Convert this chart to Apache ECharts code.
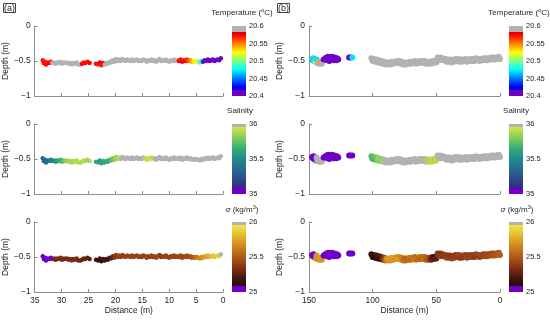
<!DOCTYPE html>
<html><head><meta charset="utf-8">
<script src="https://cdn.jsdelivr.net/npm/echarts@6/dist/echarts.min.js"></script>
<style>html,body{margin:0;padding:0;background:#fff}#c{width:550px;height:320px}</style>
</head><body><div id="c"></div><script>
// ---------------- DATA ----------------
// Panel (a): distance (m), depth (m), temperature (degC), salinity, sigma (kg/m3)
const aDist = [
 33.5,33.3,33.1,32.9,32.6,32.3,32.0,31.7,
 31.4,31.1,30.8,30.5,30.2,29.9,29.6,29.3,29.0,28.7,28.4,28.1,27.8,27.5,27.2,26.9,
 26.5,26.2,25.9,25.6,25.2,24.8,
 23.6,23.2,22.9,22.6,22.3,
 22.0,21.7,21.4,21.1,20.8,20.5,20.2,19.9,19.6,19.3,
 19.0,18.7,18.4,18.1,17.8,17.5,17.2,16.9,16.6,16.3,
 16.0,15.7,15.4,15.1,14.8,14.5,14.2,13.9,13.6,13.3,
 13.0,12.7,12.4,12.1,11.8,11.5,11.2,10.9,10.6,10.3,
 10.0,9.7,9.4,9.1,8.8,8.5,
 8.2,7.9,7.6,7.3,7.0,6.7,6.4,6.1,5.8,5.5,
 5.2,4.9,4.6,4.3,4.0,3.7,3.4,3.1,2.8,2.5,
 2.2,1.9,1.6,1.3,1.0,0.7,0.4];
const aDepth = [
 -0.49,-0.53,-0.51,-0.55,-0.52,-0.53,-0.51,-0.53,
 -0.52,-0.54,-0.52,-0.53,-0.51,-0.54,-0.52,-0.53,-0.52,-0.54,-0.53,-0.55,-0.53,-0.54,-0.52,-0.55,
 -0.55,-0.54,-0.52,-0.53,-0.51,-0.53,
 -0.54,-0.55,-0.52,-0.56,-0.53,
 -0.55,-0.53,-0.54,-0.51,-0.52,-0.49,-0.51,-0.47,-0.50,-0.48,
 -0.50,-0.47,-0.49,-0.50,-0.48,-0.49,-0.50,-0.48,-0.50,-0.49,
 -0.48,-0.50,-0.49,-0.50,-0.48,-0.49,-0.51,-0.49,-0.50,-0.48,
 -0.50,-0.49,-0.51,-0.49,-0.47,-0.50,-0.49,-0.50,-0.48,-0.50,
 -0.51,-0.49,-0.50,-0.48,-0.50,-0.49,
 -0.50,-0.48,-0.51,-0.49,-0.50,-0.48,-0.50,-0.49,-0.51,-0.50,
 -0.51,-0.50,-0.51,-0.52,-0.50,-0.51,-0.49,-0.50,-0.48,-0.50,
 -0.49,-0.48,-0.50,-0.49,-0.48,-0.49,-0.46];
const aTemp = [
 20.57,20.575,20.57,20.575,20.57,20.575,20.57,20.62,
 20.62,20.62,20.62,20.62,20.62,20.62,20.62,20.62,20.62,20.62,20.62,20.62,20.62,20.62,20.62,20.62,
 20.62,20.575,20.57,20.575,20.57,20.575,
 20.575,20.57,20.575,20.57,20.575,
 20.62,20.62,20.62,20.62,20.62,20.62,20.62,20.62,20.62,20.62,
 20.62,20.62,20.62,20.62,20.62,20.62,20.62,20.62,20.62,20.62,
 20.62,20.62,20.62,20.62,20.62,20.62,20.62,20.62,20.62,20.62,
 20.62,20.62,20.62,20.62,20.62,20.62,20.62,20.62,20.62,20.62,
 20.62,20.62,20.62,20.62,20.62,20.62,
 20.575,20.57,20.575,20.57,20.575,20.565,20.56,20.55,20.54,20.53,
 20.525,20.52,20.51,20.49,20.475,20.405,20.405,20.405,20.405,20.405,
 20.405,20.405,20.405,20.405,20.405,20.405,20.405];
const aSal = [
 35.35,35.33,35.36,35.34,35.37,35.38,35.40,35.45,
 35.50,35.55,35.58,35.62,35.66,35.70,35.76,35.80,35.84,35.86,35.88,35.86,35.88,35.90,35.88,35.90,
 35.90,35.88,35.90,35.88,35.86,35.88,
 35.60,35.62,35.58,35.62,35.65,
 35.62,35.65,35.62,35.68,35.72,35.76,35.82,35.86,35.88,35.90,
 36.02,36.02,36.02,36.02,36.02,36.02,36.02,36.02,36.02,36.02,
 36.02,36.02,36.02,36.02,36.02,35.90,35.90,35.92,35.92,35.90,
 35.94,36.02,36.02,36.02,36.02,36.02,36.02,36.02,36.02,36.02,
 36.02,36.02,36.02,36.02,36.02,36.02,
 36.02,36.02,36.02,36.02,36.02,36.02,36.02,36.02,36.02,36.02,
 36.02,36.02,36.02,36.02,36.02,36.02,36.02,36.02,36.02,36.02,
 36.02,36.02,36.02,36.02,36.02,36.02,36.02];
const aSig = [
 25.02,25.03,25.02,25.04,25.03,25.02,25.04,25.05,
 25.32,25.30,25.34,25.31,25.33,25.30,25.34,25.32,25.30,25.33,25.31,25.34,25.30,25.32,25.33,25.30,
 25.30,25.28,25.32,25.26,25.28,25.25,
 25.18,25.15,25.20,25.16,25.18,
 25.18,25.20,25.17,25.22,25.25,25.30,25.35,25.38,25.40,25.42,
 25.40,25.42,25.38,25.41,25.43,25.40,25.42,25.39,25.41,25.43,
 25.40,25.42,25.41,25.39,25.42,25.40,25.43,25.41,25.39,25.42,
 25.40,25.43,25.41,25.42,25.40,25.38,25.41,25.43,25.40,25.42,
 25.41,25.40,25.42,25.43,25.41,25.42,
 25.42,25.43,25.41,25.44,25.42,25.45,25.43,25.46,25.48,25.50,
 25.55,25.58,25.62,25.65,25.68,25.70,25.72,25.75,25.78,25.80,
 25.82,25.84,25.85,25.86,25.88,25.88,26.10];

// Panel (b), near-shore cluster (far end of transect)
const bClusterDist = [
 147.5,147.0,146.5,146.0,145.5,145.0,144.5,144.0,143.5,143.0,
 142.0,141.0,140.0,139.0,138.5,137.0,136.5,136.0,135.5,135.0,
 134.5,134.0,133.0,132.5,132.0,131.0,130.5,130.0,129.0,128.5,
 128.0,127.0,118.5,117.5,116.0];
const bClusterDepth = [
 -0.47,-0.49,-0.46,-0.50,-0.48,-0.50,-0.52,-0.48,-0.53,-0.51,
 -0.54,-0.52,-0.54,-0.50,-0.48,-0.46,-0.48,-0.45,-0.49,-0.44,
 -0.47,-0.50,-0.45,-0.48,-0.44,-0.47,-0.49,-0.45,-0.47,-0.49,
 -0.46,-0.48,-0.45,-0.45,-0.45];
const bClusterTemp = [
 20.47,20.465,20.47,20.47,20.47,20.62,20.525,20.47,20.62,20.62,
 20.62,20.545,20.62,20.62,20.405,20.405,20.405,20.405,20.405,20.405,
 20.405,20.405,20.405,20.405,20.405,20.405,20.405,20.405,20.405,20.405,
 20.405,20.405,20.405,20.405,20.47];
const bClusterSal = [
 35.02,35.02,35.03,35.02,35.02,35.03,35.02,36.02,36.02,36.02,
 36.02,36.02,36.02,36.02,35.02,35.02,35.02,35.02,35.02,35.02,
 35.02,35.02,35.02,35.02,35.02,35.02,35.02,35.02,35.02,35.02,
 35.02,35.02,35.02,35.02,35.02];
const bClusterSig = [
 25.00,25.00,25.00,25.00,25.00,25.00,25.68,25.70,25.72,25.70,
 25.68,25.72,25.70,25.68,25.00,25.00,25.00,25.00,25.00,25.00,
 25.00,25.00,25.00,25.00,25.00,25.00,25.00,25.00,25.00,25.00,
 25.00,25.00,25.00,25.00,25.00];

// Panel (b), main band (101 m to 0 m)
const bBandDist = [
 101,100,99,98,97,96,95,94,93,92,
 91,90,89,88,87,86,85,84,83,82,
 81,80,79,78,77,76,75,74,73,72,
 71,70,69,68,67,66,65,64,63,62,
 61,60,59,58,57,56,55,54,53,52,
 51,50,49,48,47,46,45,44,43,42,
 41,40,39,38,37,36,35,34,33,32,
 31,30,29,28,27,26,25,24,23,22,
 21,20,19,18,17,16,15,14,13,12,
 11,10,9,8,7,6,5,4,3,2,
 1,0];
const bBandDepth = [
 -0.46,-0.50,-0.47,-0.51,-0.48,-0.52,-0.49,-0.53,-0.50,-0.54,
 -0.51,-0.55,-0.52,-0.55,-0.52,-0.55,-0.51,-0.54,-0.51,-0.53,
 -0.50,-0.53,-0.50,-0.54,-0.51,-0.55,-0.52,-0.55,-0.52,-0.54,
 -0.51,-0.54,-0.51,-0.53,-0.50,-0.54,-0.51,-0.53,-0.50,-0.53,
 -0.50,-0.53,-0.50,-0.54,-0.51,-0.54,-0.51,-0.54,-0.50,-0.53,
 -0.50,-0.52,-0.45,-0.48,-0.45,-0.49,-0.46,-0.49,-0.47,-0.51,
 -0.48,-0.51,-0.48,-0.52,-0.49,-0.51,-0.47,-0.50,-0.47,-0.51,
 -0.48,-0.51,-0.48,-0.50,-0.47,-0.51,-0.48,-0.50,-0.47,-0.50,
 -0.47,-0.50,-0.46,-0.49,-0.47,-0.50,-0.47,-0.49,-0.46,-0.49,
 -0.46,-0.49,-0.46,-0.48,-0.45,-0.48,-0.45,-0.48,-0.45,-0.47,
 -0.44,-0.47];
const bBandTemp = [
 20.62,20.62,20.62,20.62,20.62,20.62,20.62,20.62,20.62,20.62,
 20.62,20.62,20.62,20.62,20.62,20.62,20.62,20.62,20.62,20.62,
 20.62,20.62,20.62,20.62,20.62,20.62,20.62,20.62,20.62,20.62,
 20.62,20.62,20.62,20.62,20.62,20.62,20.62,20.62,20.62,20.62,
 20.62,20.62,20.62,20.62,20.62,20.62,20.62,20.62,20.62,20.62,
 20.62,20.62,20.62,20.62,20.62,20.62,20.62,20.62,20.62,20.62,
 20.62,20.62,20.62,20.62,20.62,20.62,20.62,20.62,20.62,20.62,
 20.62,20.62,20.62,20.62,20.62,20.62,20.62,20.62,20.62,20.62,
 20.62,20.62,20.62,20.62,20.62,20.62,20.62,20.62,20.62,20.62,
 20.62,20.62,20.62,20.62,20.62,20.62,20.62,20.62,20.62,20.62,
 20.62,20.62];
const bBandSal = [
 35.72,35.68,35.75,35.70,35.78,35.82,35.85,35.80,35.84,35.86,
 36.02,36.02,36.02,36.02,36.02,36.02,36.02,36.02,36.02,36.02,
 36.02,36.02,36.02,36.02,36.02,36.02,36.02,36.02,36.02,36.02,
 36.02,36.02,36.02,36.02,36.02,36.02,36.02,36.02,36.02,36.02,
 36.02,36.02,36.02,36.02,35.88,35.90,35.86,35.90,35.92,35.88,
 35.86,35.90,36.02,36.02,36.02,36.02,36.02,36.02,36.02,36.02,
 36.02,36.02,36.02,36.02,36.02,36.02,36.02,36.02,36.02,36.02,
 36.02,36.02,36.02,36.02,36.02,36.02,36.02,36.02,36.02,36.02,
 36.02,36.02,36.02,36.02,36.02,36.02,36.02,36.02,36.02,36.02,
 36.02,36.02,36.02,36.02,36.02,36.02,36.02,36.02,36.02,36.02,
 36.02,36.02];
const bBandSig = [
 25.15,25.12,25.18,25.10,25.20,25.15,25.22,25.18,25.25,25.30,
 25.40,25.55,25.68,25.70,25.72,25.68,25.75,25.70,25.72,25.68,
 25.70,25.74,25.66,25.70,25.65,25.60,25.55,25.58,25.52,25.56,
 25.60,25.55,25.58,25.62,25.55,25.57,25.60,25.55,25.58,25.52,
 25.56,25.60,25.55,25.50,25.52,25.45,25.40,25.28,25.22,25.25,
 25.20,25.25,25.36,25.38,25.35,25.40,25.37,25.36,25.39,25.42,
 25.38,25.40,25.36,25.42,25.38,25.40,25.37,25.39,25.42,25.38,
 25.40,25.37,25.41,25.38,25.40,25.43,25.38,25.41,25.39,25.42,
 25.40,25.38,25.42,25.40,25.43,25.41,25.44,25.42,25.40,25.44,
 25.43,25.45,25.42,25.46,25.44,25.47,25.45,25.48,25.46,25.50,
 25.48,25.52];

// Colorbar ranges and tick steps
const tempRange = [20.4, 20.6], tempStep = 0.05;
const salRange = [35, 36], salStep = 0.5;
const sigRange = [25, 26], sigStep = 0.5;
const aDistRange = [0, 35], aDistStep = 5;
const bDistRange = [0, 150], bDistStep = 50;

// ---------------- COLORMAPS ----------------
const PURPLE = '#7000c8', GRAY = '#b2b2b2';
function hex(c){return [parseInt(c.slice(1,3),16),parseInt(c.slice(3,5),16),parseInt(c.slice(5,7),16)];}
function stopsFn(stops){
  const s = stops.map(([t,c])=>[t,hex(c)]);
  return t=>{ t=Math.max(0,Math.min(1,t));
    for(let i=1;i<s.length;i++){ if(t<=s[i][0]){const a=s[i-1],b=s[i],u=(t-a[0])/(b[0]-a[0]||1);
      return [0,1,2].map(k=>Math.round(a[1][k]+(b[1][k]-a[1][k])*u));}}
    return s[s.length-1][1]; };
}
function jet(t){ const tt=0.08+0.84*t; const cl=x=>Math.max(0,Math.min(1,x));
  return [cl(1.5-Math.abs(4*tt-3)),cl(1.5-Math.abs(4*tt-2)),cl(1.5-Math.abs(4*tt-1))].map(v=>Math.round(v*255)); }
const salInner = stopsFn([[0,'#2e2a7e'],[0.15,'#2c4a8c'],[0.35,'#24738e'],[0.5,'#1f8f8a'],[0.65,'#36ab78'],[0.8,'#78c95a'],[1,'#d6e64a']]);
const sigInner = stopsFn([[0,'#200808'],[0.15,'#4a1610'],[0.32,'#8a3418'],[0.48,'#b05a18'],[0.62,'#cc7e1c'],[0.78,'#e0aa26'],[1,'#f2ea4a']]);
function rgb(a){return 'rgb('+a[0]+','+a[1]+','+a[2]+')';}
function makeMap(range, lo, hi, inner){
  const fn = v=>{ const f=(v-range[0])/(range[1]-range[0]); if(f<lo) return PURPLE; if(f>hi) return GRAY; return rgb(inner((f-lo)/(hi-lo))); };
  const stops=[{offset:0,color:GRAY},{offset:1-hi,color:GRAY}];
  const N=60; for(let i=N;i>=0;i--){const t=i/N; const f=lo+(hi-lo)*t; stops.push({offset:1-f,color:rgb(inner(t))});}
  stops.push({offset:1-lo,color:PURPLE},{offset:1,color:PURPLE});
  return {fn, stops};
}
const tMap = makeMap(tempRange, 0.09, 0.915, jet);
const sMap = makeMap(salRange, 0.08, 0.96, salInner);
const gMap = makeMap(sigRange, 0.08, 0.96, sigInner);

// ---------------- LAYOUT ----------------
const FONT = '"Liberation Sans", Arial, Helvetica, sans-serif';
const TXT = '#262626', AX = '#8e8e8e';
const tops = [26, 124, 222], H = 70;
const grids = [], xAxes = [], yAxes = [], series = [];
const bDist = bClusterDist.concat(bBandDist), bDepth = bClusterDepth.concat(bBandDepth);
const bTemp = bClusterTemp.concat(bBandTemp), bSal = bClusterSal.concat(bBandSal), bSig = bClusterSig.concat(bBandSig);
const panels = [
  {left:32, dist:aDist, depth:aDepth, vals:[aTemp,aSal,aSig], range:aDistRange, step:aDistStep, size:4.5, cbLeft:232, nameGap:16},
  {left:309, dist:bDist, depth:bDepth, vals:[bTemp,bSal,bSig], range:bDistRange, step:bDistStep, size:6, cbLeft:509, nameGap:18}
];
const maps = [tMap, sMap, gMap];
const cbRanges = [tempRange, salRange, sigRange], cbSteps = [tempStep, salStep, sigStep];
const fmt = v => String(parseFloat(v.toFixed(2)));
panels.forEach((P, pi)=>{
  for(let r=0;r<3;r++){
    const gi = grids.length;
    grids.push({left:P.left, top:tops[r], width:191, height:H});
    const bottom = r===2;
    xAxes.push({type:'value', gridIndex:gi, min:P.range[0], max:P.range[1], interval:P.step, inverse:true,
      axisLine:{show:true, onZero:false, lineStyle:{color:AX, width:1}},
      axisTick:{show:true, inside:true, length:3, lineStyle:{color:AX}},
      axisLabel:{show:bottom, color:TXT, fontSize:8.5, fontFamily:FONT, margin:4},
      splitLine:{show:false},
      name: bottom?'Distance (m)':'', nameLocation:'middle', nameGap:14,
      nameTextStyle:{color:TXT, fontSize:8.5, fontFamily:FONT}});
    yAxes.push({type:'value', gridIndex:gi, min:-1, max:0, interval:0.5, position:'left',
      axisLine:{show:true, onZero:false, lineStyle:{color:AX, width:1}},
      axisTick:{show:true, inside:true, length:3, lineStyle:{color:AX}},
      axisLabel:{color:TXT, fontSize:8.5, fontFamily:FONT, margin:4, formatter:v=> v===0?'0':'\u2212'+Math.abs(v)},
      splitLine:{show:false},
      name:'Depth (m)', nameLocation:'middle', nameGap:P.nameGap,
      nameTextStyle:{color:TXT, fontSize:8.5, fontFamily:FONT}});
    const vals = P.vals[r], map = maps[r].fn;
    series.push({type:'scatter', xAxisIndex:gi, yAxisIndex:gi, symbolSize:P.size, silent:true,
      data:P.dist.map((d,i)=>[d, P.depth[i], vals[i]]),
      itemStyle:{opacity:1, color:p=>map(p.data[2])}});
  }
});
// colorbars
panels.forEach((P, pi)=>{
  for(let r=0;r<3;r++){
    const gi = grids.length;
    grids.push({left:P.cbLeft, top:tops[r], width:14, height:H});
    const rg = cbRanges[r];
    xAxes.push({type:'value', gridIndex:gi, min:0, max:1, show:false});
    yAxes.push({type:'value', gridIndex:gi, min:rg[0], max:rg[1], interval:cbSteps[r], position:'right',
      axisLine:{show:false}, axisTick:{show:false}, splitLine:{show:false},
      axisLabel:{color:TXT, fontSize:7.5, fontFamily:FONT, margin:3, formatter:fmt}});
    const stops = maps[r].stops;
    series.push({type:'custom', xAxisIndex:gi, yAxisIndex:gi, silent:true, data:[[0, rg[0], rg[1]]], encode:{x:0,y:1},
      renderItem:(params, api)=>{
        const p1 = api.coord([0, rg[1]]), p2 = api.coord([1, rg[0]]);
        return {type:'rect', shape:{x:p1[0], y:p1[1], width:p2[0]-p1[0], height:p2[1]-p1[1]},
          style:{fill:new echarts.graphic.LinearGradient(0,0,0,1,stops)}};
      }});
  }
});

const rich = {n:{fontSize:8, color:TXT, fontFamily:FONT, lineHeight:12},
              i:{fontSize:8, color:TXT, fontFamily:FONT, lineHeight:12, fontStyle:'italic'},
              s:{fontSize:5.5, color:TXT, fontFamily:FONT, lineHeight:6, verticalAlign:'top'}};
function cbTitle(text, x, y){ return {text, left:x, top:y, textAlign:'center', textVerticalAlign:'middle', padding:0,
  textStyle:{rich, fontSize:8, fontWeight:'normal'}}; }
const titles = [
  {text:'(a)', left:3, top:3, padding:[1,1,0,1], borderWidth:1, borderColor:'#444', textStyle:{fontSize:9, fontWeight:'normal', color:TXT, fontFamily:FONT}},
  {text:'(b)', left:277, top:3, padding:[1,1,0,1], borderWidth:1, borderColor:'#444', textStyle:{fontSize:9, fontWeight:'normal', color:TXT, fontFamily:FONT}},
  cbTitle('{n|Temperature (}{s|o}{n|C)}', 242, 13),
  cbTitle('{n|Salinity}', 240, 111),
  cbTitle('{i|\u03c3}{n| (kg/m}{s|3}{n|)}', 242, 210),
  cbTitle('{n|Temperature (}{s|o}{n|C)}', 519, 13),
  cbTitle('{n|Salinity}', 516, 111),
  cbTitle('{i|\u03c3}{n| (kg/m}{s|3}{n|)}', 517, 210)
];

const chart = echarts.init(document.getElementById('c'), null, {renderer:'canvas'});
chart.setOption({animation:false, backgroundColor:'#fff', title:titles, grid:grids, xAxis:xAxes, yAxis:yAxes, series});
</script></body></html>
